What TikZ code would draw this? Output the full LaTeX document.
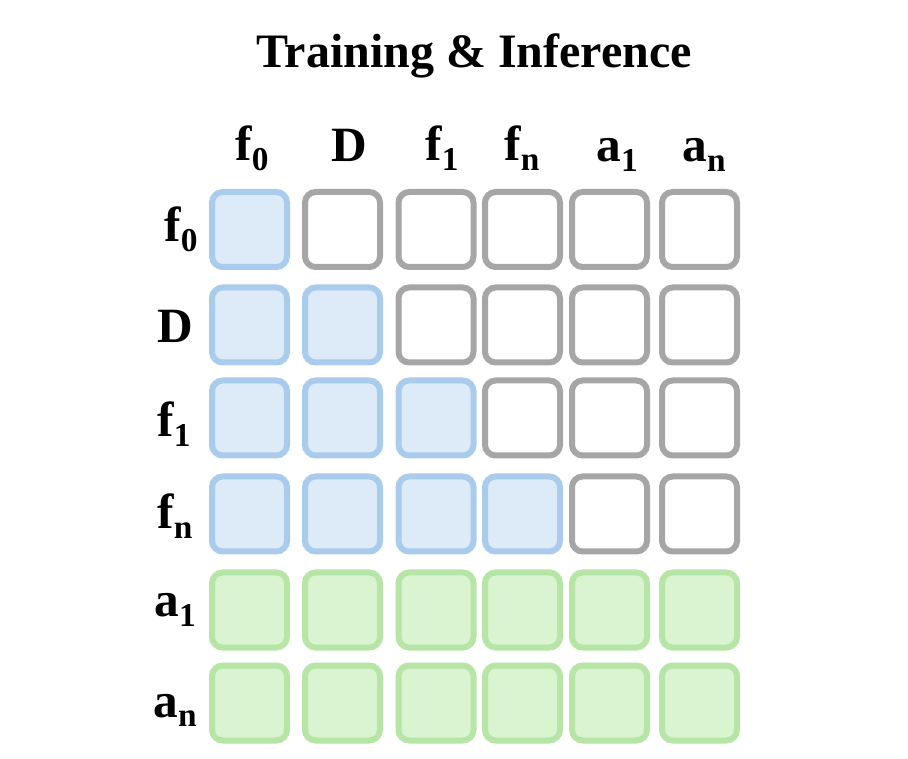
\documentclass[tikz,border=0pt]{standalone}
\usepackage{fontspec}
\setmainfont{Liberation Serif}
\usepackage{xcolor}
\definecolor{BlueLine}{HTML}{A9CBEC}
\definecolor{BlueFill}{HTML}{DDEAF7}
\definecolor{GreenLine}{HTML}{B6E5A6}
\definecolor{GreenFill}{HTML}{DAF3D1}
\definecolor{GrayLine}{HTML}{A6A6A6}
\newcommand{\sub}[1]{\raisebox{-0.2em}{\fontsize{25}{25}\selectfont #1}}
\tikzstyle{cell}=[draw,rectangle,rounded corners=8pt,line width=4.5pt,minimum size=56.25pt,inner sep=0pt]
\tikzstyle{c1}=[draw=BlueLine,fill=BlueFill]
\tikzstyle{c2}=[draw=GrayLine,fill=white]
\tikzstyle{c3}=[draw=GreenLine,fill=GreenFill]
\tikzstyle{label}=[inner sep=0pt,anchor=base,font=\bfseries\fontsize{37}{37}\selectfont]
\tikzstyle{title}=[inner sep=0pt,anchor=base,font=\bfseries\fontsize{36}{36}\selectfont]

\begin{document}
\begin{tikzpicture}[x=0.75pt,y=-0.75pt]
	\useasboundingbox (0,0) rectangle (908,759);
	\node[title] (title) at (474,68) {Training \& Inference};
	% cells: rows 1-4 blue up to the diagonal, rows 5-6 green
	\foreach \y [count=\r] in {229.5,325,418,514,610,703}
	\foreach \x [count=\c] in {249.5,342.5,436,522.5,609.5,699.5}{
		\ifnum\r>4
			\node[cell,c3] (cell-\r-\c) at (\x,\y) {};
		\else\ifnum\c>\r
			\node[cell,c2] (cell-\r-\c) at (\x,\y) {};
		\else
			\node[cell,c1] (cell-\r-\c) at (\x,\y) {};
		\fi\fi
	}
	% column labels
	\foreach \place/\name/\text in {%
	{(252,161)/f0/f\sub{0}}, {(349,162)/D/D}, {(442,161)/f1/f\sub{1}},
	{(522,161)/fn/f\sub{n}}, {(617,162)/a1/a\sub{1}}, {(704,162)/an/a\sub{n}}}
	\node[label] (col-\name) at \place {\text};
	% row labels
	\foreach \place/\name/\text in {%
	{(181,242)/f0/f\sub{0}}, {(175,343)/D/D}, {(174,437)/f1/f\sub{1}},
	{(175,529)/fn/f\sub{n}}, {(175,617)/a1/a\sub{1}}, {(175,717)/an/a\sub{n}}}
	\node[label] (row-\name) at \place {\text};
\end{tikzpicture}
\end{document}
